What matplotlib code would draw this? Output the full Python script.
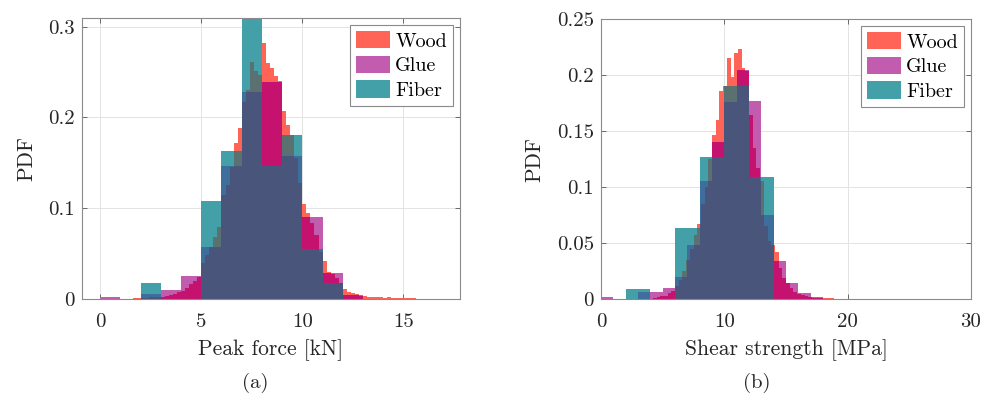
import numpy as np
import matplotlib
matplotlib.use("Agg")
import matplotlib.pyplot as plt
from matplotlib.patches import Patch

plt.rcParams['font.family'] = ['cmr10', 'DejaVu Serif']
plt.rcParams['axes.formatter.use_mathtext'] = True
plt.rcParams['mathtext.fontset'] = 'cm'

series_names = ["Wood", "Glue", "Fiber"]

# ---------------- panel (a): peak force ----------------
a_wood_start, a_wood_width = 1.6, 0.2
a_wood = [0.001, 0.001,
          0.001, 0.001, 0.002, 0.002, 0.002,
          0.002, 0.003, 0.004, 0.006, 0.008,
          0.009, 0.012, 0.017, 0.020, 0.024,
          0.040, 0.048, 0.057, 0.068, 0.079,
          0.115, 0.126, 0.145, 0.172, 0.188,
          0.217, 0.230, 0.261, 0.251, 0.247,
          0.282, 0.260, 0.254, 0.246, 0.240,
          0.207, 0.192, 0.181, 0.155, 0.128,
          0.105, 0.095, 0.084, 0.070, 0.052,
          0.042, 0.030, 0.027, 0.023, 0.018,
          0.011, 0.008, 0.007, 0.005, 0.003,
          0.003, 0.0025, 0.002, 0.002, 0.002,
          0.0015, 0.002, 0.0015, 0.001, 0.001,
          0.001, 0.0008, 0.0008, 0.0005, 0.0005,
          0.0005, 0.0005, 0.0003, 0.0003, 0.0003]
a_glue_start, a_glue_width = 0.0, 1.0
a_glue = [0.002, 0.0, 0.006, 0.010, 0.025, 0.057, 0.146, 0.228, 0.2385,
          0.157, 0.090, 0.029, 0.004]
a_fiber_start, a_fiber_width = 2.0, 1.0
a_fiber = [0.018, 0.0, 0.0, 0.108, 0.163, 0.310, 0.146, 0.181, 0.055, 0.018]

# ---------------- panel (b): shear strength ----------------
b_wood_start, b_wood_width = 4.2, 0.3
b_wood = [0.001, 0.002, 0.003, 0.003, 0.005, 0.007, 0.012, 0.017, 0.025, 0.035,
          0.045, 0.057, 0.067, 0.085, 0.100, 0.125, 0.146, 0.160, 0.186, 0.190,
          0.2155, 0.1985, 0.220, 0.2235, 0.206, 0.204, 0.164, 0.1345, 0.117, 0.105,
          0.065, 0.052, 0.048, 0.042, 0.028, 0.019, 0.014, 0.0095, 0.0066, 0.0045,
          0.0033, 0.0024, 0.0015, 0.0012, 0.001, 0.0008, 0.0007, 0.0006, 0.0005,
          0.0004, 0.0003, 0.0003, 0.0002]
b_glue_start, b_glue_width = 0.0, 1.0
b_glue = [0.0015, 0.0, 0.0, 0.0065, 0.006, 0.010, 0.020, 0.048, 0.105, 0.140,
          0.1756, 0.2045, 0.177, 0.075, 0.034, 0.014, 0.005, 0.002]
b_fiber_start, b_fiber_width = 2.0, 2.0
b_fiber = [0.0087, 0.0, 0.0631, 0.127, 0.1905, 0.1086]

# axis texts
a_xlabel, b_xlabel, ylabel = "Peak force [kN]", "Shear strength [MPa]", "PDF"
a_xticks, a_xticklabels = [0, 5, 10, 15], ["0", "5", "10", "15"]
a_yticks, a_yticklabels = [0, 0.1, 0.2, 0.3], ["0", "0.1", "0.2", "0.3"]
b_xticks, b_xticklabels = [0, 10, 20, 30], ["0", "10", "20", "30"]
b_yticks = [0, 0.05, 0.1, 0.15, 0.2, 0.25]
b_yticklabels = ["0", "0.05", "0.1", "0.15", "0.2", "0.25"]
captions = ["(a)", "(b)"]

# colours of single series and of their overlaps (Wood, Glue, Fiber)
combo_colors = {
    (1, 0, 0): "#FF6456",
    (0, 1, 0): "#C25CAE",
    (0, 0, 1): "#43A0A8",
    (1, 1, 0): "#C5126E",
    (1, 0, 1): "#5B7070",
    (0, 1, 1): "#3D6E9C",
    (1, 1, 1): "#4A557C",
}


def lookup(start, width, heights, x):
    i = int(np.floor((x - start) / width + 1e-9))
    if 0 <= i < len(heights):
        return heights[i]
    return 0.0


def draw_hist(ax, specs):
    edges = set()
    for start, width, h in specs:
        for k in range(len(h) + 1):
            edges.add(round(start + k * width, 6))
    edges = sorted(edges)
    L, B, H, W, C = [], [], [], [], []
    for a, b in zip(edges[:-1], edges[1:]):
        mid = 0.5 * (a + b)
        hs = [lookup(s, w, h, mid) for s, w, h in specs]
        levels = sorted(set([0.0] + hs))
        for lo, hi in zip(levels[:-1], levels[1:]):
            key = tuple(int(v >= hi) for v in hs)
            if sum(key) == 0:
                continue
            L.append(a); B.append(lo); H.append(hi - lo); W.append(b - a)
            C.append(combo_colors[key])
    bars = ax.bar(L, H, width=W, bottom=B, align='edge', color=C,
                  linewidth=0, zorder=2)
    for p in bars:
        p.set_antialiased(False)


fig = plt.figure(figsize=(9.84, 4.03), dpi=100)
W_, H_ = 984, 403
ax1 = fig.add_axes([82 / W_, 1 - 299 / H_, (460 - 82) / W_, (299 - 18) / H_])
ax2 = fig.add_axes([601 / W_, 1 - 299 / H_, (971 - 601) / W_, (299 - 19) / H_])

draw_hist(ax1, [(a_wood_start, a_wood_width, a_wood),
                (a_glue_start, a_glue_width, a_glue),
                (a_fiber_start, a_fiber_width, a_fiber)])
draw_hist(ax2, [(b_wood_start, b_wood_width, b_wood),
                (b_glue_start, b_glue_width, b_glue),
                (b_fiber_start, b_fiber_width, b_fiber)])

fs_tick = 15
fs_lab = 15.5
fs_leg = 14.5
for ax, xl, xt, xtl, yt, ytl, xlim, ylim in [
        (ax1, a_xlabel, a_xticks, a_xticklabels, a_yticks, a_yticklabels, (-0.9, 17.8), (0, 0.3095)),
        (ax2, b_xlabel, b_xticks, b_xticklabels, b_yticks, b_yticklabels, (0, 30), (0, 0.25))]:
    ax.set_xlim(*xlim)
    ax.set_ylim(*ylim)
    ax.set_xticks(xt)
    ax.set_xticklabels(xtl)
    ax.set_yticks(yt)
    ax.set_yticklabels(ytl)
    ax.set_axisbelow(True)
    ax.grid(True, color="#e3e3e3", linewidth=0.7, zorder=0)
    ax.tick_params(direction='in', length=3.5, width=0.6, color="#555555",
                   labelsize=fs_tick, labelcolor="#262626", top=True, right=True)
    ax.tick_params(axis='x', pad=10)
    ax.tick_params(axis='y', pad=5)
    for sp in ax.spines.values():
        sp.set_color("#8a8a8a")
        sp.set_linewidth(0.8)
    ax.set_xlabel(xl, fontsize=fs_lab, color="#262626", labelpad=6)
    ax.set_ylabel(ylabel, fontsize=fs_lab, color="#262626", labelpad=9)
    handles = [Patch(facecolor=combo_colors[k], edgecolor='none')
               for k in [(1, 0, 0), (0, 1, 0), (0, 0, 1)]]
    leg = ax.legend(handles, series_names, loc='upper right', fontsize=fs_leg,
                    fancybox=False, framealpha=1, edgecolor="#8a8a8a",
                    handlelength=1.7, handleheight=0.95, handletextpad=0.25,
                    labelspacing=0.25, borderpad=0.3, borderaxespad=0.35)
    leg.get_frame().set_linewidth(0.8)

fig.text(255 / W_, 1 - 383 / H_, captions[0], ha='center', va='center', fontsize=fs_tick, color="#262626")
fig.text(757 / W_, 1 - 383 / H_, captions[1], ha='center', va='center', fontsize=fs_tick, color="#262626")

fig.savefig("out.png", dpi=100)
